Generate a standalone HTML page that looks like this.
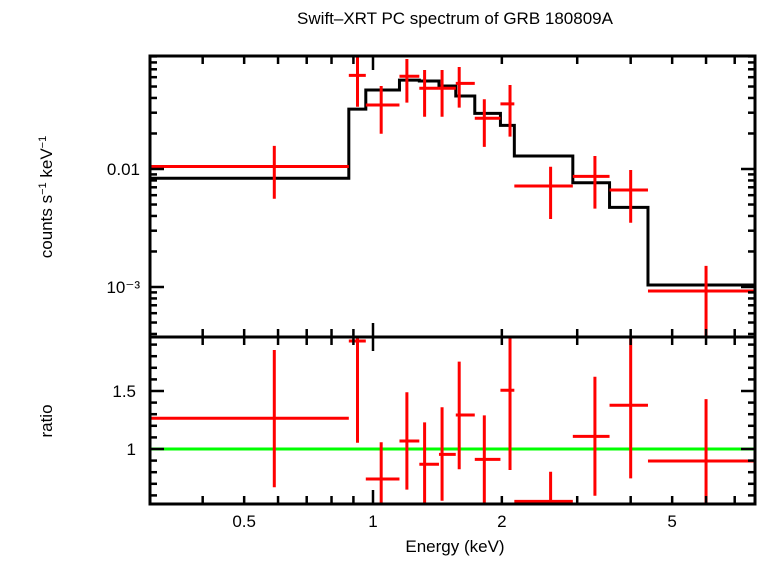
<!DOCTYPE html>
<html><head><meta charset="utf-8"><style>
body{margin:0;background:#fff}
svg text{font-family:"Liberation Sans",sans-serif;fill:#000}
</style></head><body>
<svg id="c" width="758" height="556" xmlns="http://www.w3.org/2000/svg">
<text x="455" y="24" font-size="17" text-anchor="middle">Swift–XRT PC spectrum of GRB 180809A</text>
<text transform="translate(52,197) rotate(-90)" font-size="17" text-anchor="middle">counts s<tspan font-size="11" dy="-6">−1</tspan><tspan dy="6"> keV</tspan><tspan font-size="11" dy="-6">−1</tspan></text>
<text transform="translate(52,421) rotate(-90)" font-size="17" text-anchor="middle">ratio</text>
<text x="455" y="552" font-size="17" text-anchor="middle">Energy (keV)</text>
<g id="g"></g>
</svg>
<script>
const modelEdges=[0.30,0.878,0.962,1.153,1.283,1.426,1.561,1.729,1.985,2.139,2.93,3.57,4.39,8.0];
const modelLevels=[0.00834,0.0322,0.0467,0.0567,0.0557,0.0505,0.0416,0.0296,0.0234,0.0129,0.00765,0.00473,0.00104];
const eLo=[0.30,0.878,0.962,1.153,1.283,1.426,1.561,1.729,1.985,2.139,2.93,3.57,4.39];
const eHi=[0.878,0.962,1.153,1.283,1.426,1.561,1.729,1.985,2.139,2.93,3.57,4.39,8.0];
const eMid=[0.588,0.920,1.045,1.200,1.32,1.45,1.59,1.82,2.09,2.6,3.3,4.0,6.0];
const rate=[0.0105,0.0622,0.0349,0.0611,0.0483,0.0483,0.0532,0.0269,0.0356,0.00718,0.00867,0.00664,0.000925];
const rateHi=[0.0157,0.0925,0.0505,0.0855,0.069,0.069,0.0731,0.039,0.0515,0.01046,0.0129,0.0098,0.00151];
const rateLo=[0.0056,0.0337,0.0199,0.0365,0.0277,0.0277,0.0331,0.0154,0.0188,0.00377,0.00461,0.0035,0.0003];
const ratio=[1.265,1.931,0.741,1.069,0.868,0.954,1.293,0.911,1.506,0.549,1.109,1.377,0.897];
const ratioHi=[1.853,2.1,1.058,1.489,1.23,1.36,1.753,1.29,1.97,0.804,1.623,1.97,1.43];
const ratioLo=[0.67,1.054,0.4,0.65,0.4,0.554,0.825,0.526,0.819,0.4,0.597,0.747,0.4];
const xTicks=[0.4,0.5,0.6,0.7,0.8,0.9,1,2,3,4,5,6,7];
const xLabels=[0.5,1,2,5];
const yTopMajor=[0.01,0.001];
const yTopLabels=["0.01","10⁻³"];
const yBotLabels=[1.5,1];

const L=150,R=755,T1=56,B1=337,B2=504;
const X=e=>373+428*Math.log10(e);
const Y1=v=>169-118*(Math.log10(v)+2);
const Y2=r=>449-116*(r-1);
const g=document.getElementById('g');
const NS="http://www.w3.org/2000/svg";
function el(t,a){const e=document.createElementNS(NS,t);for(const k in a)e.setAttribute(k,a[k]);g.appendChild(e);return e;}

const defs=el('defs',{});
defs.innerHTML='<clipPath id="c1"><rect x="150" y="56" width="605" height="281"/></clipPath><clipPath id="c2"><rect x="150" y="337" width="605" height="167"/></clipPath>';

let d='';
modelLevels.forEach((v,i)=>{const x0=X(modelEdges[i]),x1=X(modelEdges[i+1]),y=Y1(v);d+=(i?'L':'M')+x0+','+y+'L'+x1+','+y;});
const m=el('path',{d:d,fill:'none',stroke:'#000','stroke-width':3,'clip-path':'url(#c1)'});



rate.forEach((v,i)=>{
  const p=el('path',{d:`M${X(eLo[i])},${Y1(v)}H${X(eHi[i])}M${X(eMid[i])},${Y1(rateLo[i])}V${Y1(rateHi[i])}`,stroke:'#f00','stroke-width':3,fill:'none','clip-path':'url(#c1)'});
  
  
});
const gl=el('line',{x1:L,x2:R,y1:Y2(1),y2:Y2(1),stroke:'#0f0','stroke-width':3});


ratio.forEach((v,i)=>{
  const p=el('path',{d:`M${X(eLo[i])},${Y2(v)}H${X(eHi[i])}M${X(eMid[i])},${Y2(ratioLo[i])}V${Y2(ratioHi[i])}`,stroke:'#f00','stroke-width':3,fill:'none','clip-path':'url(#c2)'});
  
  
});

[[T1,B1],[B1,B2]].forEach(([t,b],k)=>{
  const r=el('rect',{x:L,y:t,width:R-L,height:b-t,fill:'none',stroke:'#000','stroke-width':3});
  
  
  xTicks.forEach(e=>{const x=X(e),len=e===1?14:8;
    el('line',{x1:x,x2:x,y1:t,y2:t+len,stroke:'#000','stroke-width':2.5});
    el('line',{x1:x,x2:x,y1:b,y2:b-len,stroke:'#000','stroke-width':2.5});});
});
for(let dec=-4;dec<=-1;dec++)for(let k=1;k<10;k++){const v=k*Math.pow(10,dec),y=Y1(v);if(y<T1||y>B1)continue;const len=k===1?14:7;
  el('line',{x1:L,x2:L+len,y1:y,y2:y,stroke:'#000','stroke-width':2.5});el('line',{x1:R,x2:R-len,y1:y,y2:y,stroke:'#000','stroke-width':2.5});}
for(let r=0.4;r<2;r+=0.1){const y=Y2(r);if(y<B1+2||y>B2-2)continue;const maj=Math.abs(r*2-Math.round(r*2))<0.01;const len=maj?14:7;
  el('line',{x1:L,x2:L+len,y1:y,y2:y,stroke:'#000','stroke-width':2.5});el('line',{x1:R,x2:R-len,y1:y,y2:y,stroke:'#000','stroke-width':2.5});}
yTopMajor.forEach((v,i)=>{const t=el('text',{x:140,y:Y1(v)+6,'font-size':17,'text-anchor':'end'});t.textContent=yTopLabels[i];
  });
yBotLabels.forEach(v=>{const t=el('text',{x:136,y:Y2(v)+6,'font-size':17,'text-anchor':'end'});t.textContent=String(v);
  });
xLabels.forEach(v=>{const t=el('text',{x:X(v),y:527,'font-size':17,'text-anchor':'middle'});t.textContent=String(v);
  });
</script>
</body></html>
